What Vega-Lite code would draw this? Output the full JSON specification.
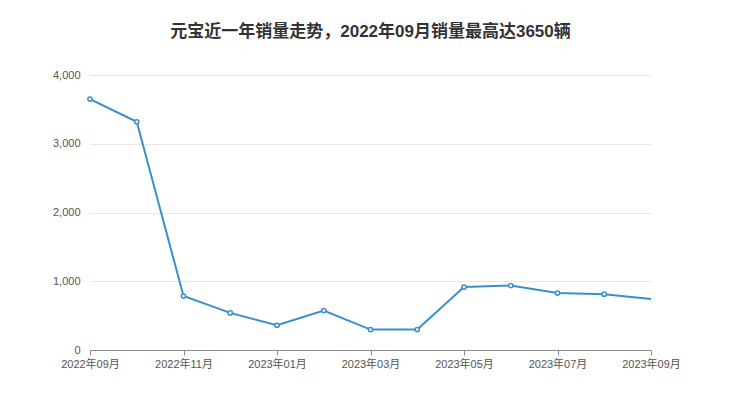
{
  "$schema": "https://vega.github.io/schema/vega-lite/v6.json",
  "autosize": "none",
  "width": 561,
  "height": 275,
  "padding": {"left": 90, "top": 75, "right": 89, "bottom": 67},
  "background": "white",
  "title": {
    "text": "元宝近一年销量走势，2022年09月销量最高达3650辆",
    "anchor": "middle",
    "frame": "group",
    "font": "Liberation Sans, Noto Sans CJK SC",
    "fontSize": 17,
    "letterSpacing": 1,
    "fontWeight": "bold",
    "color": "#333333",
    "offset": 28
  },
  "config": {
    "view": {"stroke": null},
    "font": "Liberation Sans, Noto Sans CJK SC"
  },
  "data": {
    "values": [
      {"month": "2022年09月", "sales": 3650, "marker": true},
      {"month": "2022年10月", "sales": 3320, "marker": true},
      {"month": "2022年11月", "sales": 785, "marker": true},
      {"month": "2022年12月", "sales": 540, "marker": true},
      {"month": "2023年01月", "sales": 360, "marker": true},
      {"month": "2023年02月", "sales": 574, "marker": true},
      {"month": "2023年03月", "sales": 297, "marker": true},
      {"month": "2023年04月", "sales": 297, "marker": true},
      {"month": "2023年05月", "sales": 915, "marker": true},
      {"month": "2023年06月", "sales": 938, "marker": true},
      {"month": "2023年07月", "sales": 828, "marker": true},
      {"month": "2023年08月", "sales": 812, "marker": true},
      {"month": "2023年09月", "sales": 742, "marker": false}
    ]
  },
  "encoding": {
    "x": {
      "field": "month",
      "type": "ordinal",
      "sort": null,
      "scale": {"type": "point", "padding": 0},
      "axis": {
        "title": null,
        "labelAngle": 0,
        "values": ["2022年09月", "2022年11月", "2023年01月", "2023年03月", "2023年05月", "2023年07月", "2023年09月"],
        "domainColor": "#8c8c8c",
        "tickColor": "#8c8c8c",
        "tickSize": 5,
        "labelColor": "#555555",
        "labelFontSize": 11,
        "labelPadding": 3,
        "grid": false
      }
    },
    "y": {
      "field": "sales",
      "type": "quantitative",
      "scale": {"domain": [0, 4000]},
      "axis": {
        "title": null,
        "values": [0, 1000, 2000, 3000, 4000],
        "format": ",d",
        "domain": false,
        "ticks": false,
        "gridColor": "#e8e8e8",
        "labelColor": "#555555",
        "labelFontSize": 11,
        "labelPadding": 10
      }
    }
  },
  "layer": [
    {
      "mark": {"type": "line", "color": "#3a90c8", "strokeWidth": 2}
    },
    {
      "transform": [{"filter": "datum.marker"}],
      "mark": {"type": "point", "shape": "circle", "filled": true, "fill": "white", "stroke": "#3a90c8", "strokeWidth": 1.5, "size": 18, "opacity": 1}
    }
  ]
}
